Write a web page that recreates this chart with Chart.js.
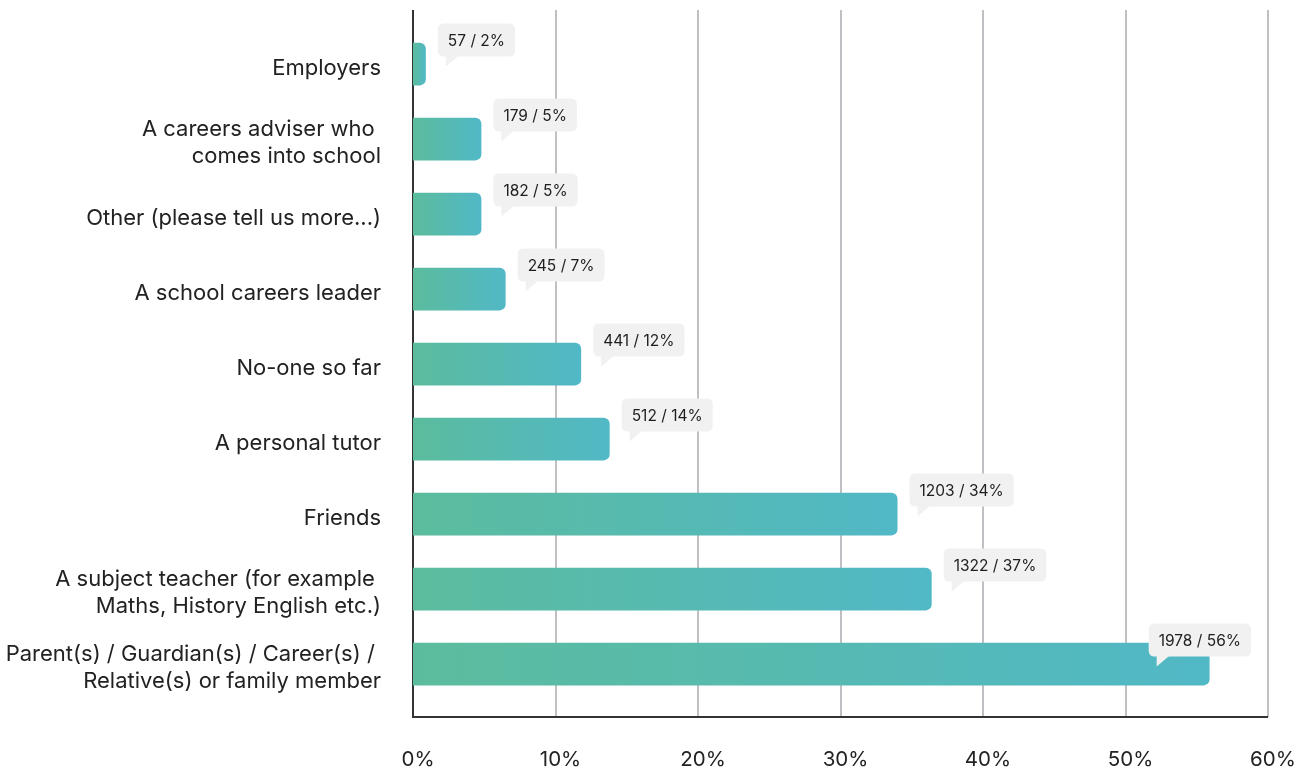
<!DOCTYPE html>
<html>
<head>
<meta charset="utf-8">
<script src="https://cdn.jsdelivr.net/npm/chart.js@4"></script>
<style>
  html, body { margin: 0; padding: 0; background: #fff; }
  #wrap { width: 1309px; height: 773px; }
</style>
</head>
<body>
<div id="wrap"><canvas id="myChart"></canvas></div>
<script>
const categories = [
    "Employers",
    ["A careers adviser who ", "comes into school"],
    "Other (please tell us more...)",
    "A school careers leader",
    "No-one so far",
    "A personal tutor",
    "Friends",
    ["A subject teacher (for example ", "Maths, History English etc.)"],
    ["Parent(s) / Guardian(s) / Career(s) / ", "Relative(s) or family member"]
];
// bar lengths (%) as drawn
const barPct = [0.9, 4.8, 4.8, 6.5, 11.8, 13.8, 34.0, 36.4, 55.9];
// counts and rounded percentages shown in the callouts
const counts = [57, 179, 182, 245, 441, 512, 1203, 1322, 1978];
const labelPct = [2, 5, 5, 7, 12, 14, 34, 37, 56];
const xTicks = [0, 10, 20, 30, 40, 50, 60];

const FONT = "Inter, 'Noto Sans', sans-serif";

const ctx = document.getElementById("myChart").getContext("2d");

function barGradient(context) {
    const chart = context.chart;
    const area = chart.chartArea;
    if (!area || !chart.scales.x) return "#57bab1";
    const end = chart.scales.x.getPixelForValue(barPct[context.dataIndex]);
    const g = chart.ctx.createLinearGradient(area.left, 0, Math.max(end, area.left + 1), 0);
    g.addColorStop(0, "#5bbc9d");
    g.addColorStop(1, "#51b8c6");
    return g;
}

// grid lines + axis lines, extended past the category bands
const gridPlugin = {
    id: "grid",
    beforeDatasetsDraw(chart) {
        const c = chart.ctx;
        const x = chart.scales.x;
        const top = 10, bottom = 717;
        c.save();
        c.strokeStyle = "#c0c0c4";
        c.lineWidth = 2;
        xTicks.forEach(v => {
            if (v === 0) return;
            const px = Math.round(x.getPixelForValue(v));
            c.beginPath();
            c.moveTo(px, top);
            c.lineTo(px, bottom);
            c.stroke();
        });
        c.strokeStyle = "#333";
        c.beginPath();
        const x0 = Math.round(x.getPixelForValue(0));
        c.moveTo(x0, top);
        c.lineTo(x0, bottom);
        c.lineTo(Math.round(x.getPixelForValue(60)), bottom);
        c.stroke();
        c.restore();
    }
};

function roundRect(c, x, y, w, h, r) {
    c.beginPath();
    c.moveTo(x + r, y);
    c.lineTo(x + w - r, y);
    c.quadraticCurveTo(x + w, y, x + w, y + r);
    c.lineTo(x + w, y + h - r);
    c.quadraticCurveTo(x + w, y + h, x + w - r, y + h);
    c.lineTo(x + r, y + h);
    c.quadraticCurveTo(x, y + h, x, y + h - r);
    c.lineTo(x, y + r);
    c.quadraticCurveTo(x, y, x + r, y);
    c.closePath();
}

// speech-bubble value labels
const calloutPlugin = {
    id: "callouts",
    afterDatasetsDraw(chart) {
        const c = chart.ctx;
        const meta = chart.getDatasetMeta(0);
        const area = chart.chartArea;
        c.save();
        c.font = "15.5px " + FONT;
        c.textBaseline = "middle";
        c.textAlign = "center";
        meta.data.forEach((bar, i) => {
            const text = counts[i] + " / " + labelPct[i] + "%";
            const w = c.measureText(text).width + 20;
            const h = 33;
            let bx = bar.x + 12;
            if (bx + w > area.right - 17) bx = area.right - 17 - w;
            const by = bar.y - 24 - h / 2;
            c.fillStyle = "#f1f1f1";
            roundRect(c, bx, by, w, h, 6);
            c.fill();
            c.beginPath();
            c.moveTo(bx + 8, by + h - 1);
            c.lineTo(bx + 21, by + h - 1);
            c.lineTo(bx + 8, by + h + 10);
            c.closePath();
            c.fill();
            c.fillStyle = "#1e1e1e";
            c.fillText(text, bx + w / 2, by + h / 2 + 1);
        });
        c.restore();
    }
};

const data = {
    labels: categories,
    datasets: [
        {
            data: barPct,
            backgroundColor: barGradient,
            borderRadius: 6,
            borderSkipped: "start",
            barPercentage: 0.57,
            categoryPercentage: 1
        }
    ]
};

const config = {
    type: "bar",
    data: data,
    plugins: [gridPlugin, calloutPlugin],
    options: {
        indexAxis: "y",
        responsive: true,
        maintainAspectRatio: false,
        animation: false,
        layout: { padding: { top: 26.5, right: 41, left: 0, bottom: 0 } },
        plugins: {
            legend: { display: false },
            tooltip: { enabled: false }
        },
        scales: {
            x: {
                min: 0,
                max: 60,
                afterBuildTicks: (scale) => {
                    scale.ticks = xTicks.map(v => ({ value: v }));
                },
                afterFit: (scale) => {
                    scale.height = 71.5;
                    scale.paddingLeft = 0;
                    scale.paddingRight = 0;
                },
                grid: { display: false, drawTicks: false },
                border: { display: false },
                ticks: {
                    padding: 46,
                    labelOffset: 5,
                    color: "#222",
                    font: { family: FONT, size: 20.5 },
                    callback: (v) => v + "%"
                }
            },
            y: {
                afterFit: (scale) => {
                    scale.width = 413;
                    scale.paddingTop = 0;
                    scale.paddingBottom = 0;
                },
                grid: { display: false, drawTicks: false },
                border: { display: false },
                ticks: {
                    padding: 32,
                    labelOffset: 4,
                    color: "#222",
                    font: { family: FONT, size: 22, lineHeight: 1.2 }
                }
            }
        }
    }
};

const myChart = new Chart(ctx, config);
</script>
</body>
</html>
